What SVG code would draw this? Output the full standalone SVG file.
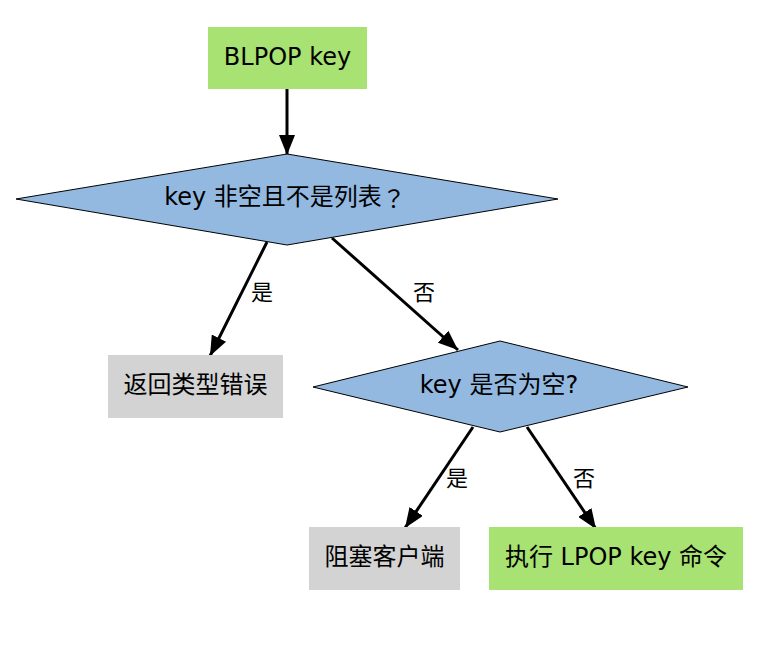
<svg xmlns="http://www.w3.org/2000/svg" width="773" height="657" viewBox="0 0 773 657">
<defs>
<style>
.t{font-family:"DejaVu Sans","Noto Sans CJK SC",sans-serif;font-size:24px;fill:#000;text-anchor:middle;dominant-baseline:central}
.l{font-family:"DejaVu Sans","Noto Sans CJK SC",sans-serif;font-size:22px;fill:#000;text-anchor:middle;dominant-baseline:central}
.q{font-family:"Noto Sans CJK TC",sans-serif}
.g{fill:#a8e272}
.gr{fill:#d3d3d3}
.d{fill:#93b9e1;stroke:#000;stroke-width:1}
.e{stroke:#000;stroke-width:3;fill:none;marker-end:url(#ah)}
</style>
<marker id="ah" markerUnits="userSpaceOnUse" markerWidth="22" markerHeight="16" refX="20" refY="8" orient="auto">
<path d="M0,0 L20,8 L0,16 Z" fill="#000"/>
</marker>
</defs>
<rect width="773" height="657" fill="#fff"/>
<g id="connectors">
<line class="e" x1="287" y1="89" x2="287" y2="155"/>
<line class="e" x1="267" y1="242" x2="210" y2="356"/>
<line class="e" x1="332" y1="238" x2="458" y2="350"/>
<line class="e" x1="473" y1="427" x2="405" y2="528"/>
<line class="e" x1="527" y1="427" x2="596" y2="529"/>
<text class="l" x="262" y="292">是</text>
<text class="l" x="424" y="292">否</text>
<text class="l" x="457" y="478">是</text>
<text class="l" x="584" y="478">否</text>
</g>
<g id="start">
<rect class="g" x="208" y="27" width="159" height="62"/>
<text class="t" x="287.5" y="57">BLPOP key</text>
</g>
<g id="check1">
<polygon class="d" points="287,154 558,199 287,245 16,199"/>
<text class="t" x="285" y="197">key 非空且不是列表<tspan class="q">？</tspan></text>
</g>
<g id="typeError">
<rect class="gr" x="108" y="355" width="175" height="63"/>
<text class="t" x="195.5" y="385">返回类型错误</text>
</g>
<g id="check2">
<polygon class="d" points="500,341 688,387 500,432 313,387"/>
<text class="t" x="499" y="385">key 是否为空?</text>
</g>
<g id="block">
<rect class="gr" x="309" y="527" width="151" height="63"/>
<text class="t" x="384.5" y="557">阻塞客户端</text>
</g>
<g id="lpop">
<rect class="g" x="489" y="527" width="254" height="63"/>
<text class="t" x="616" y="557">执行 LPOP key 命令</text>
</g>
</svg>
